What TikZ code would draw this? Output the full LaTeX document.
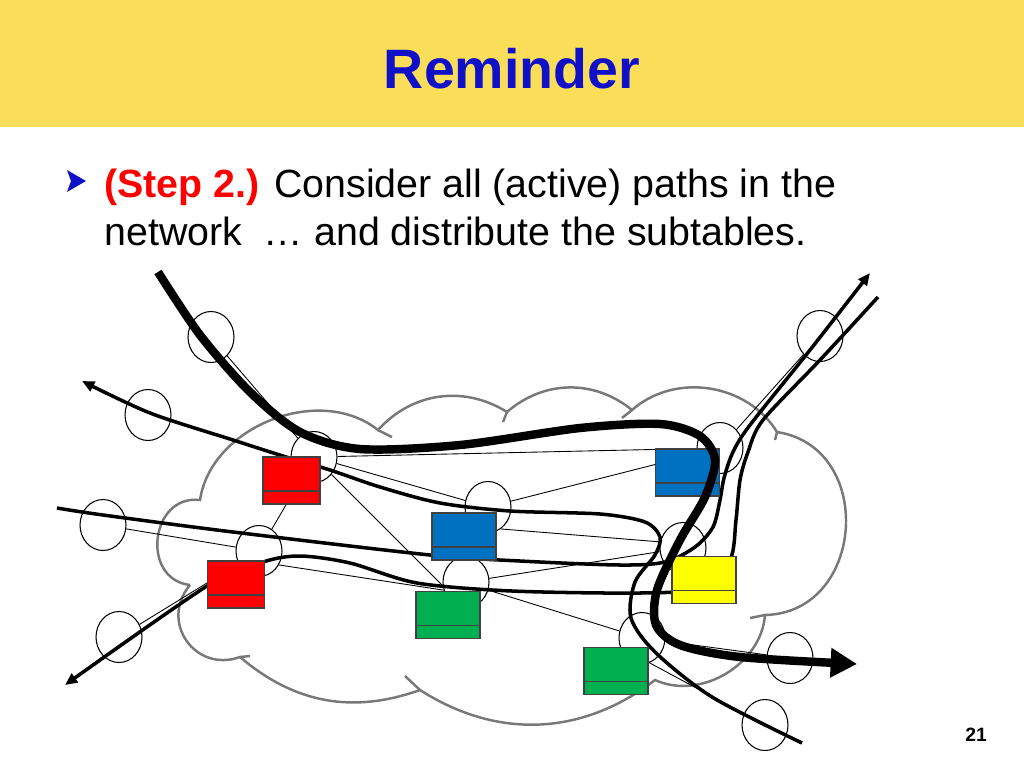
\documentclass[tikz,border=0pt]{standalone}
\usepackage{fontspec}
\setmainfont{Liberation Sans}
\usetikzlibrary{shapes.geometric,arrows.meta}

\definecolor{headyellow}{RGB}{250,222,90}
\definecolor{titleblue}{RGB}{16,16,200}
\definecolor{tblred}{RGB}{255,0,0}
\definecolor{tblblue}{RGB}{0,112,192}
\definecolor{tblgreen}{RGB}{0,176,80}
\definecolor{tblyellow}{RGB}{255,255,0}
\definecolor{cloudgray}{RGB}{120,120,120}

\pgfdeclarelayer{background}
\pgfsetlayers{background,main}

\tikzset{
  router/.style={ellipse, draw, fill=white, line width=0.6pt,
    minimum width=0.92cm, minimum height=1.02cm, inner sep=0pt},
  subtable/.style={rectangle, draw=black!75, line width=0.6pt,
    minimum width=1.28cm, minimum height=0.94cm, inner sep=0pt,
    path picture={\draw[black!75, line width=0.6pt]
      ([yshift=0.26cm]path picture bounding box.south west) --
      ([yshift=0.26cm]path picture bounding box.south east);}},
  link/.style={line width=0.5pt},
  route/.style={line width=2pt},
  mainroute/.style={line width=4.8pt},
  cloudline/.style={cloudgray, line width=1.4pt},
}

\begin{document}
\begin{tikzpicture}[x=0.02cm, y=-0.02cm]
\useasboundingbox (0,0) rectangle (1024,768);

% header
\fill[headyellow] (0,0) rectangle (1024,127);
\node[anchor=base, text=titleblue, font=\fontsize{31.6}{38}\selectfont\bfseries] (title) at (512,88) {Reminder};

% bullet text
\fill[titleblue] (67,170) -- (86,181) -- (67,192) -- (71,181) -- cycle;
\node[anchor=base west, inner sep=0pt, font=\fontsize{22.4}{27}\selectfont] (line1) at (104,197)
  {{\color{tblred}\bfseries (Step 2.)} Consider all (active) paths in the};
\node[anchor=base west, inner sep=0pt, font=\fontsize{22.4}{27}\selectfont] (line2) at (104,245)
  {network\ \ … and distribute the subtables.};
\node[anchor=base, font=\fontsize{11}{13}\selectfont\bfseries] (pagenum) at (976,741) {21};

% routers
\coordinate (p1) at (211,337);
\coordinate (p2) at (148,415);
\coordinate (p3) at (314,457);
\coordinate (p4) at (488,507);
\coordinate (p5) at (103,525);
\coordinate (p6) at (259,551);
\coordinate (p7) at (119,637);
\coordinate (p8) at (466,582);
\coordinate (p9) at (720,448);
\coordinate (p10) at (683,548);
\coordinate (p11) at (642,638);
\coordinate (p12) at (820,336);
\coordinate (p13) at (790,658);
\coordinate (p14) at (765,725);

\node[router] (r1) at (p1) {};
\node[router] (r2) at (p2) {};
\node[router] (r3) at (p3) {};
\node[router] (r4) at (p4) {};
\node[router] (r5) at (p5) {};
\node[router] (r6) at (p6) {};
\node[router] (r7) at (p7) {};
\node[router] (r8) at (p8) {};
\node[router] (r9) at (p9) {};
\node[router] (r10) at (p10) {};
\node[router] (r11) at (p11) {};
\node[router] (r12) at (p12) {};
\node[router] (r13) at (p13) {};
\node[router] (r14) at (p14) {};

% paths
\coordinate (astart) at (802,743);
\coordinate (aend) at (82,381);
\coordinate (bstart) at (57,508);
\coordinate (bend) at (870,273);
\coordinate (cstart) at (878,297);
\coordinate (cend) at (65,685);
\coordinate (mainstart) at (158,272);
\coordinate (mainend) at (857,664);

\draw[route, -{Triangle[length=7pt,width=6pt]}] plot[smooth] coordinates {(astart) (712,697) (655,652)
  (631,618) (635,582) (655,555) (660,537) (645,522) (600,514) (510,511) (440,503) (380,487)
  (330,470) (283,456) (233,440) (150,413) (aend)};
\draw[route, -{Triangle[length=7pt,width=6pt]}] plot[smooth] coordinates {(bstart) (103,515) (233,532)
  (430,555) (520,561) (620,565) (665,562) (695,547) (713,527) (720,500) (724,478) (733,452)
  (750,425) (810,350) (bend)};
\draw[route, -{Triangle[length=7pt,width=6pt]}] plot[smooth] coordinates {(cstart) (820,360) (763,420)
  (748,452) (740,480) (736,520) (730,560) (700,588) (640,593) (512,591) (417,583) (350,563)
  (300,556) (263,562) (207,586) (cend)};

% subtables
\node[subtable, fill=tblred, minimum width=1.14cm] (tr1) at (291.5,480.5) {};
\node[subtable, fill=tblred, minimum width=1.14cm] (tr2) at (236,584.5) {};
\node[subtable, fill=tblblue] (tb1) at (464,536.5) {};
\node[subtable, fill=tblblue] (tb2) at (687.5,472.5) {};
\node[subtable, fill=tblgreen] (tg1) at (448,615) {};
\node[subtable, fill=tblgreen] (tg2) at (616,671) {};
\node[subtable, fill=tblyellow] (ty) at (704,580) {};

\draw[mainroute, -{Triangle[length=15pt,width=16pt]}] plot[smooth] coordinates {(mainstart) (200,335)
  (250,392) (300,432) (360,449) (460,445) (580,428) (660,424) (700,436) (715,460) (705,497)
  (680,540) (657,590) (656,625) (680,645) (740,657) (mainend)};

\begin{pgfonlayer}{background}
% the network cloud
\draw[cloudline] (190,585) to[bend left=90, looseness=1.5] (200,500) to[bend left=60] (378,430)
  to[bend left=40] (507,412) to[bend left=40] (632,410) to[bend left=50] (777,432)
  to[bend left=85, looseness=1.4] (765,615) to[bend left=55] (655,680) to[bend left=35] (420,690)
  to[bend left=30] (240,657) to[bend left=75, looseness=1.4] (190,585);
\draw[cloudline] (378,430) -- (392,437) (507,412) -- (503,422) (632,410) -- (622,418)
  (777,432) -- (775,440) (765,615) -- (750,618) (420,690) -- (405,676) (240,657) -- (250,656);

% links
\draw[link] (r1) -- (r3);
\draw[link] (r3) -- (r9);
\draw[link] (r3) -- (r4);
\draw[link] (r3) -- (r6);
\draw[link] (r3) -- (tg1.north);
\draw[link] (r5) -- (r6);
\draw[link] (r7) -- (r6);
\draw[link] (r6.-35) -- (r8.200);
\draw[link] (r4) -- (r9);
\draw[link] (r4.-60) -- (r10.165);
\draw[link] (r8) -- (r10);
\draw[link] (r8.-20) -- (r11);
\draw[link] (r9) -- (r10);
\draw[link] (r9) -- (r12);
\draw[link] (r11) -- (r13);
\draw[link] (tg2.15) -- (r14);
\end{pgfonlayer}
\end{tikzpicture}
\end{document}
